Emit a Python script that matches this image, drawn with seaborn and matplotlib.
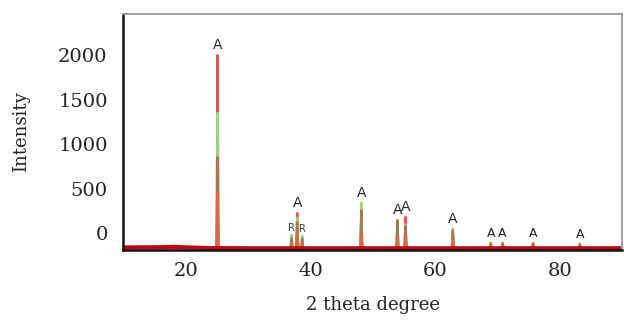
import pandas as pd
import numpy as np
import matplotlib
matplotlib.use("Agg")
import matplotlib.pyplot as plt
import seaborn as sns

# peak positions (2 theta) and labels
peak_pos = [25.0, 36.9, 37.8, 38.6, 48.1, 53.9, 55.2, 62.8, 68.9, 70.8, 75.7, 83.2]
peak_lab = ['A', 'R', 'A', 'R', 'A', 'A', 'A', 'A', 'A', 'A', 'A', 'A']

# peak tops for each overlaid pattern
red_top = [2000, -120, 225, -120, 180, 100, 180, 20, -110, -110, -110, -120]
green_top = [1350, -20, 170, -30, 340, 150, 100, 50, -105, -110, -112, -125]
brown_top = [850, -60, 120, -60, 250, 140, 80, 30, -118, -118, -118, -130]
orange_top = [450, -110, 20, -110, -40, -60, -40, -90, -140, -140, -140, -145]

# background line (weak amorphous hump near 18 deg)
base_x = [9.8, 12, 14, 16, 18, 19.5, 21, 23, 30, 50, 70, 90]
base_y = [-160, -160, -159, -158, -155, -158, -163, -167, -170, -170, -170, -170]

BASE = -170
HW = 0.16

rows = []
for name, tops in [('red', red_top), ('green', green_top),
                   ('brown', brown_top), ('orange', orange_top)]:
    rows.append((name, 9.8, BASE))
    for p, h in zip(peak_pos, tops):
        rows.append((name, p - HW, BASE))
        rows.append((name, p, h))
        rows.append((name, p + HW, BASE))
    rows.append((name, 90, BASE))
df = pd.DataFrame({'series': [r[0] for r in rows],
                   'theta': [r[1] for r in rows],
                   'intensity': [r[2] for r in rows]})
bg = pd.DataFrame({'theta': base_x, 'intensity': base_y})

sns.set_style('white')
plt.rcParams['font.family'] = ['DejaVu Serif']

fig, ax = plt.subplots(figsize=(6.24, 3.2), dpi=100)
fig.subplots_adjust(left=0.197, right=0.997, top=0.956, bottom=0.219)

pal = {'red': '#e2525c', 'green': '#98d27e', 'brown': '#9c7c4c', 'orange': '#d86a4a'}
sns.lineplot(data=df, x='theta', y='intensity', hue='series',
             hue_order=['red', 'green', 'brown', 'orange'], palette=pal,
             sort=False, estimator=None, legend=False, linewidth=1.6, ax=ax)
sns.lineplot(data=bg, x='theta', y='intensity', color='#c00010',
             linewidth=2.8, estimator=None, ax=ax)

tops = np.max([red_top, green_top, brown_top, orange_top], axis=0)
for p, t, lab in zip(peak_pos, tops, peak_lab):
    if lab == 'R':
        ax.annotate(lab, (p, t), xytext=(0, 1), textcoords='offset points',
                    ha='center', va='bottom', fontsize=7, color='#444444',
                    family='DejaVu Sans')
    else:
        ax.annotate(lab, (p, t), xytext=(0, 2), textcoords='offset points',
                    ha='center', va='bottom', fontsize=10 if t > 0 else 9,
                    color='#222222', family='DejaVu Sans')

ax.set_xlim(9.8, 90)
ax.set_ylim(-190, 2460)
ax.set_xticks([20, 40, 60, 80])
ax.set_yticks([0, 500, 1000, 1500, 2000])
ax.tick_params(axis='both', length=0, labelsize=14, colors='#222222')
ax.tick_params(axis='y', pad=11)
ax.tick_params(axis='x', pad=9)
ax.set_xlabel('2 theta degree', fontsize=13, labelpad=11, color='#222222')
ax.set_ylabel('Intensity', fontsize=13, labelpad=20, color='#222222')

for s in ['left', 'bottom']:
    ax.spines[s].set_color('#111111')
    ax.spines[s].set_linewidth(1.8)
for s in ['top', 'right']:
    ax.spines[s].set_color('#999999')
    ax.spines[s].set_linewidth(1.3)

fig.savefig('out.png', dpi=100)
